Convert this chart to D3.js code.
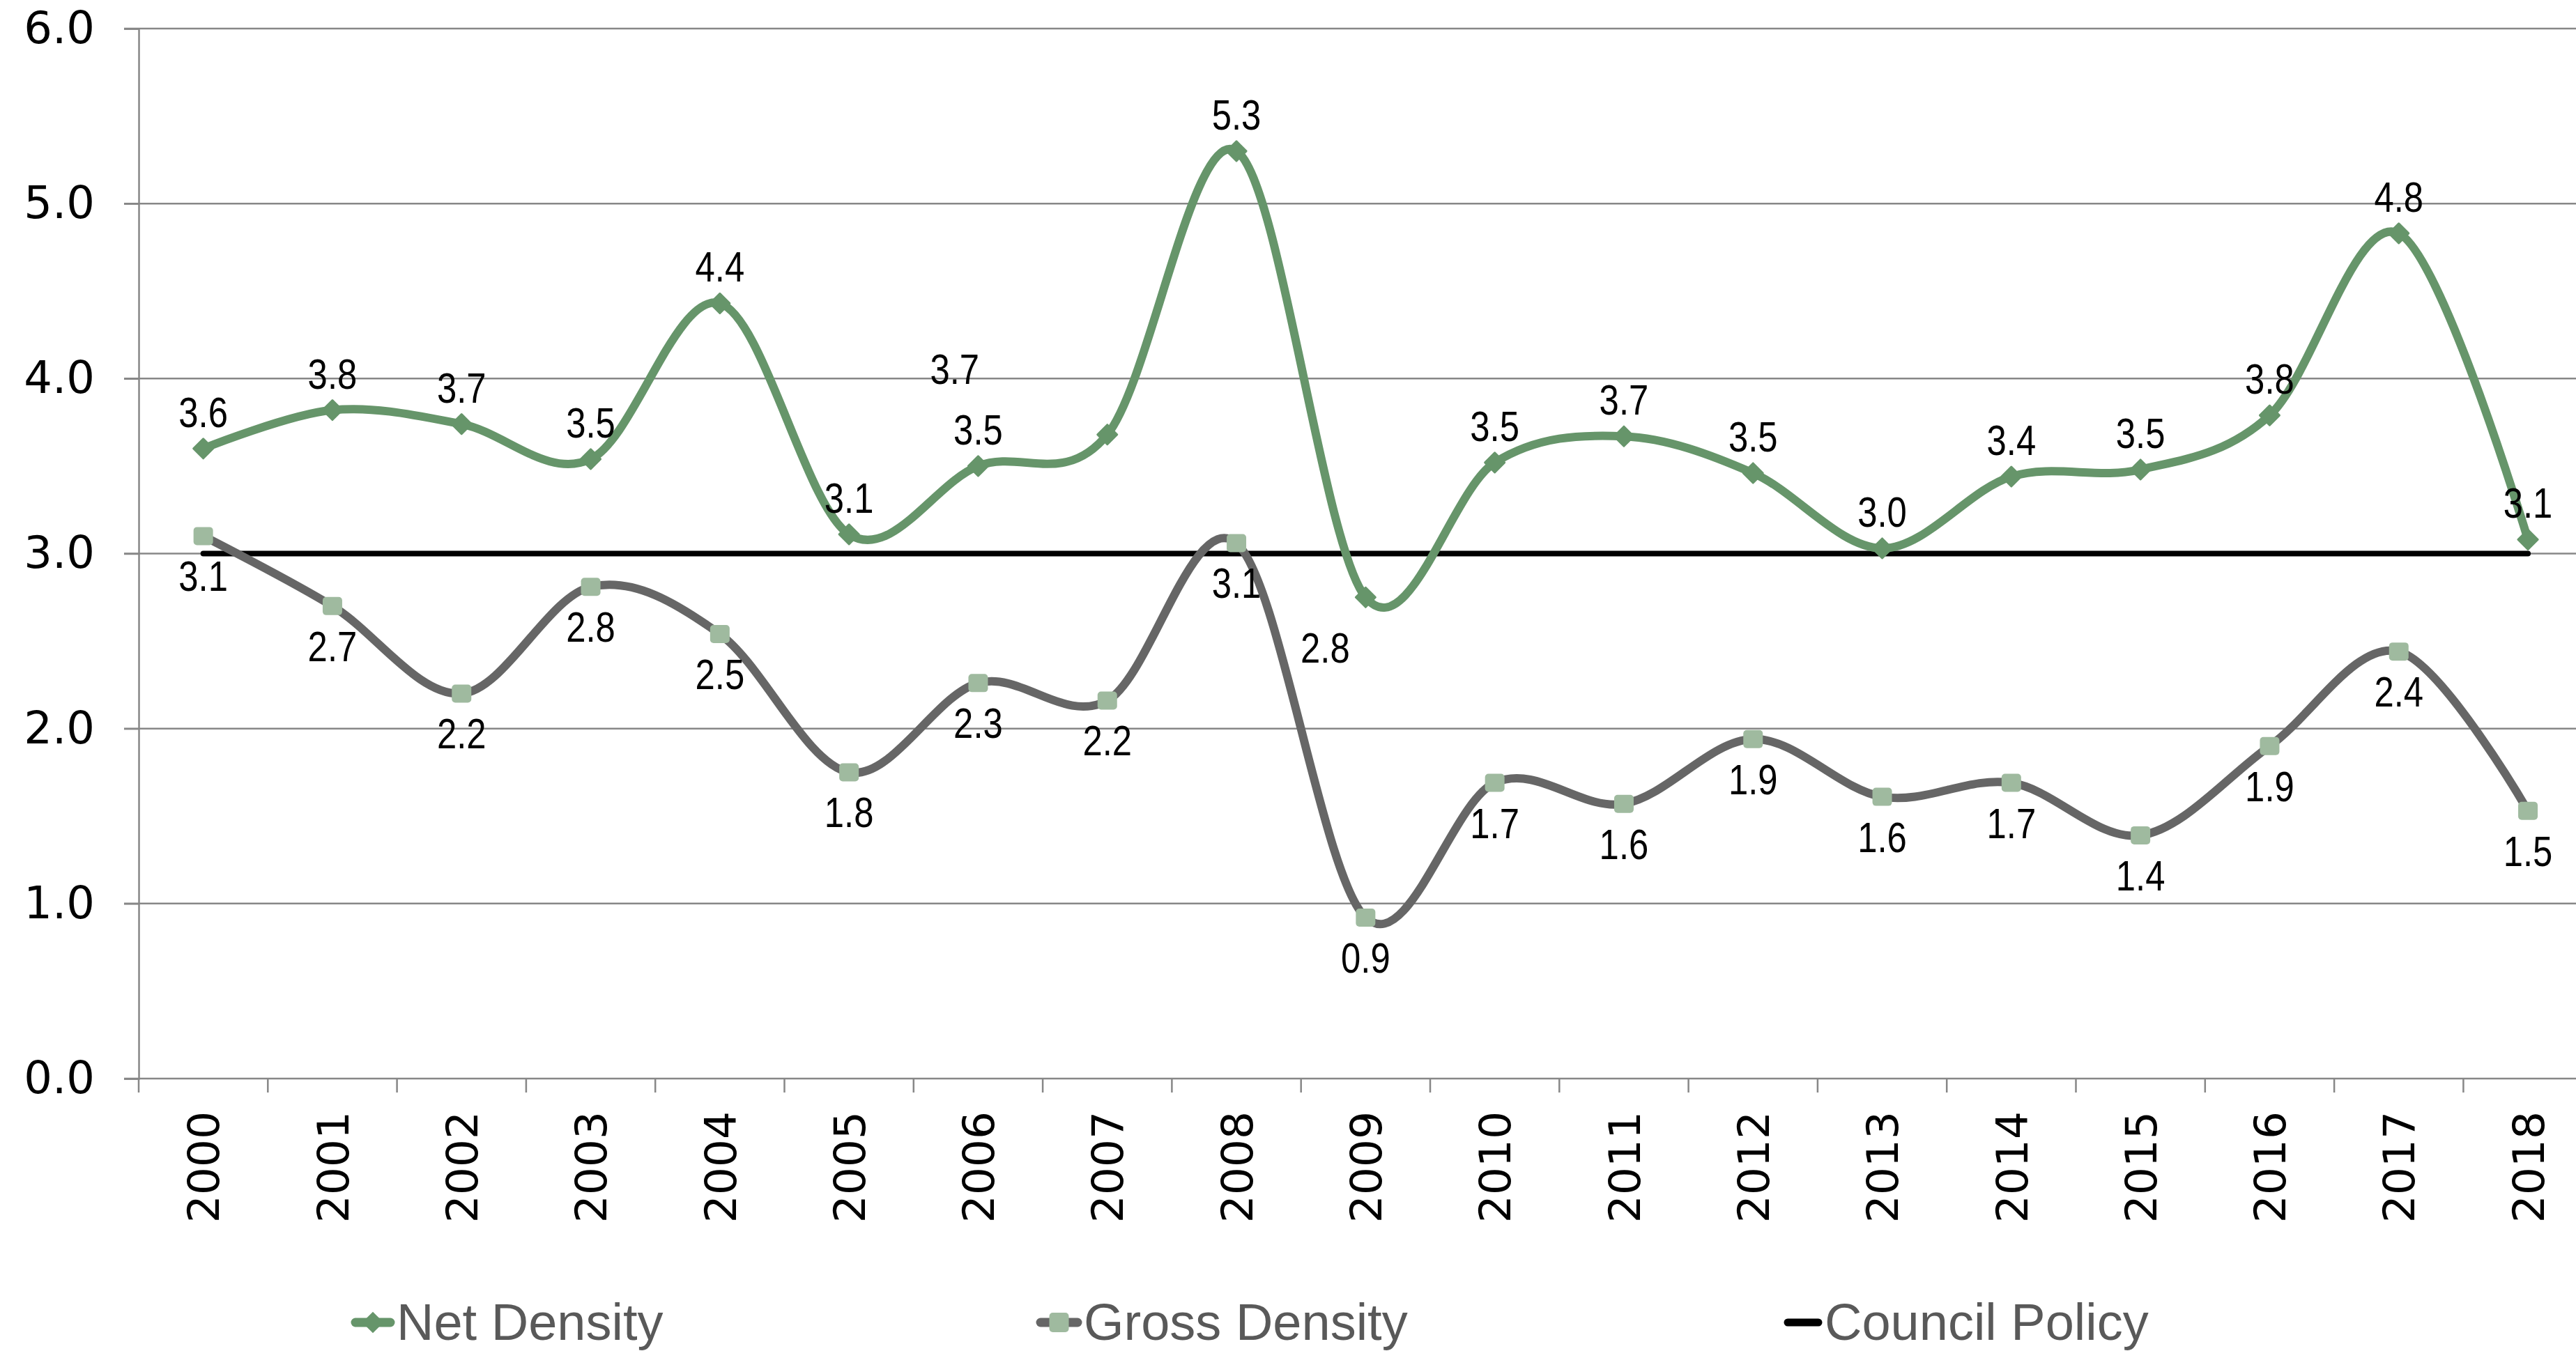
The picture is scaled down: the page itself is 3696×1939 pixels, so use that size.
<!DOCTYPE html>
<html>
<head>
<meta charset="utf-8">
<script src="https://cdn.jsdelivr.net/npm/d3@7"></script>
<style>
  body { margin: 0; background: #fff; }
  svg { display: block; }
</style>
</head>
<body>
<div id="chart"></div>
<script>
// data
var years = ["2000", "2001", "2002", "2003", "2004", "2005", "2006", "2007", "2008", "2009",
             "2010", "2011", "2012", "2013", "2014", "2015", "2016", "2017", "2018"];
var netDensity = [3.60, 3.82, 3.74, 3.54, 4.43, 3.11, 3.50, 3.68, 5.30, 2.75,
                  3.52, 3.67, 3.46, 3.03, 3.44, 3.48, 3.79, 4.83, 3.08];
var grossDensity = [3.10, 2.70, 2.20, 2.81, 2.54, 1.75, 2.26, 2.16, 3.06, 0.92,
                    1.69, 1.57, 1.94, 1.61, 1.69, 1.39, 1.90, 2.44, 1.53];
var councilPolicy = 3.0;
var yTicks = [0, 1, 2, 3, 4, 5, 6];
var seriesNames = ["Net Density", "Gross Density", "Council Policy"];

// a couple of net labels were dragged away from their points in the original
var netLabelMoved = { "2007": [-219, -73], "2009": [-58, 94] };

var W = 3696, H = 1939;
var margin = {left: 199, top: 41, bottom: 391};
var bandW = 185.3;

var svg = d3.select("#chart")
    .append("svg")
    .attr("width", W)
    .attr("height", H);

var x = d3.scaleBand()
    .domain(years)
    .range([margin.left, margin.left + bandW * years.length]);

var y = d3.scaleLinear()
    .domain([0, 6])
    .range([H - margin.bottom, margin.top]);

var cx = function(d) { return x(d) + x.bandwidth() / 2; };

// gridlines
svg.append("g")
  .selectAll("line")
  .data(yTicks)
  .enter()
  .append("line")
    .attr("x1", margin.left - 21)
    .attr("x2", W)
    .attr("y1", d => y(d))
    .attr("y2", d => y(d))
    .attr("stroke", "#878787")
    .attr("stroke-width", 2.5);

// y axis
var yAxis = svg.append("g")
    .attr("transform", "translate(" + margin.left + ",0)")
    .call(d3.axisLeft(y).tickValues(yTicks).tickFormat(d3.format(".1f")).tickSize(21).tickPadding(42));
yAxis.select(".domain").attr("stroke", "#878787").attr("stroke-width", 2.5);
yAxis.selectAll(".tick line").attr("stroke", "#878787").attr("stroke-width", 2.5);
yAxis.selectAll("text")
    .attr("font-family", "DejaVu Sans, Verdana, sans-serif")
    .attr("font-size", 64)
    .attr("fill", "#000");

// x axis: ticks between categories
var xAxisG = svg.append("g")
    .attr("transform", "translate(0," + y(0) + ")");
xAxisG.selectAll("line")
  .data(d3.range(years.length + 1))
  .enter()
  .append("line")
    .attr("x1", i => margin.left + i * bandW)
    .attr("x2", i => margin.left + i * bandW)
    .attr("y1", 0)
    .attr("y2", 20)
    .attr("stroke", "#878787")
    .attr("stroke-width", 2.5);

xAxisG.selectAll("text")
  .data(years)
  .enter()
  .append("text")
    .attr("transform", d => "translate(" + cx(d) + ",47) rotate(-90)")
    .attr("text-anchor", "end")
    .attr("dy", "0.36em")
    .attr("font-family", "DejaVu Sans, Verdana, sans-serif")
    .attr("font-size", 63)
    .attr("fill", "#000")
    .text(d => d);

// council policy line
svg.append("line")
    .attr("x1", cx(years[0]))
    .attr("x2", cx(years[years.length - 1]))
    .attr("y1", y(councilPolicy))
    .attr("y2", y(councilPolicy))
    .attr("stroke", "#000")
    .attr("stroke-width", 8)
    .attr("stroke-linecap", "round");

var line = d3.line()
    .x(d => cx(d[0]))
    .y(d => y(d[1]))
    .curve(d3.curveCatmullRom.alpha(0));

var grossPts = years.map((yr, i) => [yr, grossDensity[i]]);
var netPts = years.map((yr, i) => [yr, netDensity[i]]);

var green = "#66956a", grey = "#666666", paleGreen = "#9fba9f";

svg.append("path")
    .datum(grossPts)
    .attr("d", line)
    .attr("fill", "none")
    .attr("stroke", grey)
    .attr("stroke-width", 12)
    .attr("stroke-linejoin", "round");

svg.append("path")
    .datum(netPts)
    .attr("d", line)
    .attr("fill", "none")
    .attr("stroke", green)
    .attr("stroke-width", 12)
    .attr("stroke-linejoin", "round");

// markers
svg.append("g")
  .selectAll("rect")
  .data(grossPts)
  .enter()
  .append("rect")
    .attr("x", d => cx(d[0]) - 14)
    .attr("y", d => y(d[1]) - 13)
    .attr("width", 28)
    .attr("height", 26)
    .attr("rx", 5)
    .attr("fill", paleGreen);

var diamond = d3.symbol().type(d3.symbolDiamond2).size(500);
svg.append("g")
  .selectAll("path")
  .data(netPts)
  .enter()
  .append("path")
    .attr("d", diamond)
    .attr("transform", d => "translate(" + cx(d[0]) + "," + y(d[1]) + ")")
    .attr("fill", green)
    .attr("stroke", green)
    .attr("stroke-width", 3)
    .attr("stroke-linejoin", "round");

// data labels (narrow Arial look: squeeze regular sans horizontally)
var labelFont = "Liberation Sans, Arial, sans-serif";
function addLabels(pts, dxdy) {
  svg.append("g")
    .selectAll("text")
    .data(pts)
    .enter()
    .append("text")
      .attr("transform", function(d) {
        var o = dxdy(d);
        return "translate(" + (cx(d[0]) + o[0]) + "," + (y(d[1]) + o[1]) + ") scale(0.82,1)";
      })
      .attr("text-anchor", "middle")
      .attr("font-family", labelFont)
      .attr("font-size", 62)
      .attr("fill", "#000")
      .text(d => d[1].toFixed(1));
}
addLabels(grossPts, d => [0, 79]);
addLabels(netPts, d => netLabelMoved[d[0]] || [0, -31]);

// legend
var legendX = [504, 1487, 2559];
var legendW = [62, 65, 56];
var legend = svg.append("g")
    .attr("transform", "translate(0,1898)");

seriesNames.forEach(function(name, i) {
  var g = legend.append("g").attr("transform", "translate(" + legendX[i] + ",0)");
  var col = i === 0 ? green : (i === 1 ? grey : "#000");
  g.append("line")
      .attr("x1", 6).attr("x2", legendW[i] - 6)
      .attr("y1", 0).attr("y2", 0)
      .attr("stroke", col)
      .attr("stroke-width", i === 2 ? 11 : 13)
      .attr("stroke-linecap", "round");
  if (i === 0) {
    g.append("path")
        .attr("d", d3.symbol().type(d3.symbolDiamond2).size(600))
        .attr("transform", "translate(" + legendW[i] / 2 + ",0)")
        .attr("fill", green);
  } else if (i === 1) {
    g.append("rect")
        .attr("x", legendW[i] / 2 - 14).attr("y", -14)
        .attr("width", 28).attr("height", 28)
        .attr("rx", 5)
        .attr("fill", paleGreen);
  }
  g.append("text")
      .attr("x", legendW[i] + 3)
      .attr("y", 25)
      .attr("font-family", "Liberation Sans, Arial, sans-serif")
      .attr("font-size", 74)
      .attr("fill", "#595959")
      .text(name);
});
</script>
</body>
</html>
